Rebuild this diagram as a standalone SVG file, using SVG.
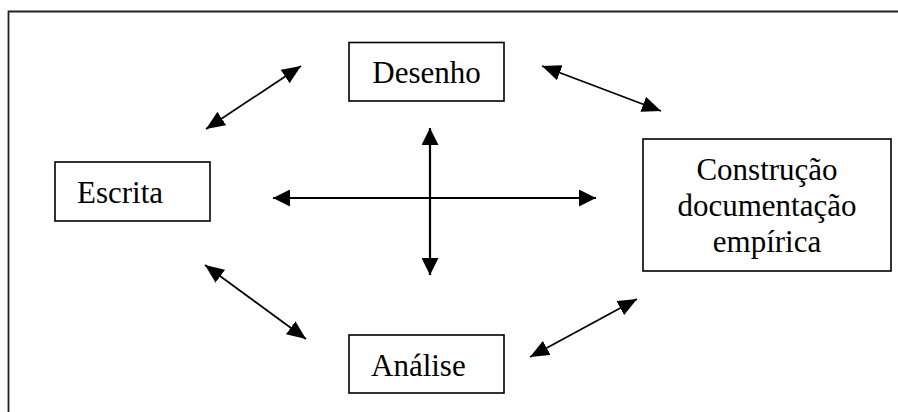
<svg xmlns="http://www.w3.org/2000/svg" width="898" height="412" viewBox="0 0 898 412">
<style>
  .box{fill:#fff;stroke:#000;stroke-width:1.6}
  .t{font-family:"Liberation Serif","DejaVu Serif",Times,serif;font-size:31px;fill:#000}
  .c{fill:none;stroke:#000}
  .d{stroke-width:1.7;marker-start:url(#hs);marker-end:url(#hs)}
  .x{stroke-width:2.2;marker-start:url(#hl);marker-end:url(#hl)}
</style>
<defs>
  <marker id="hs" viewBox="0 0 19 16" refX="19" refY="8" markerWidth="19" markerHeight="16" markerUnits="userSpaceOnUse" orient="auto-start-reverse">
    <path d="M0,0 L19,8 L0,16 z" fill="#000"/>
  </marker>
  <marker id="hl" viewBox="0 0 17 17" refX="17" refY="8.5" markerWidth="17" markerHeight="17" markerUnits="userSpaceOnUse" orient="auto-start-reverse">
    <path d="M0,0 L17,8.5 L0,17 z" fill="#000"/>
  </marker>
</defs>
<rect width="898" height="412" fill="#fff"/>
<path d="M8.5,412 V11.5 H898" fill="none" stroke="#222" stroke-width="1.8"/>
<g id="connectors">
  <line class="c d" x1="206" y1="129" x2="301" y2="66"/>
  <line class="c d" x1="542" y1="66" x2="661" y2="111"/>
  <line class="c d" x1="205" y1="265" x2="306" y2="339"/>
  <line class="c d" x1="530" y1="357" x2="637" y2="299"/>
  <line class="c x" x1="273" y1="198" x2="596" y2="198"/>
  <line class="c x" x1="430" y1="128" x2="430" y2="275"/>
</g>
<g id="desenho">
  <rect class="box" x="349" y="42.5" width="155" height="58.5"/>
  <text class="t" x="426.5" y="83" text-anchor="middle" font-family="Liberation Serif, serif">Desenho</text>
</g>
<g id="escrita">
  <rect class="box" x="55" y="162" width="155" height="59"/>
  <text class="t" x="77" y="203">Escrita</text>
</g>
<g id="construcao">
  <rect class="box" x="643" y="139" width="248" height="132"/>
  <text class="t" x="767" y="180" text-anchor="middle">Construção</text>
  <text class="t" x="767" y="216" text-anchor="middle">documentação</text>
  <text class="t" x="767" y="252" text-anchor="middle">empírica</text>
</g>
<g id="analise">
  <rect class="box" x="349" y="335" width="155" height="58"/>
  <text class="t" x="371" y="376">Análise</text>
</g>
</svg>
